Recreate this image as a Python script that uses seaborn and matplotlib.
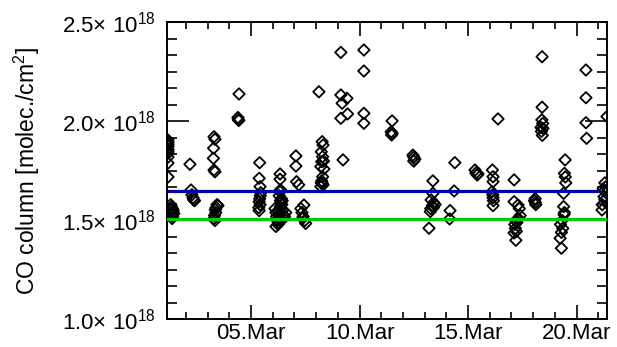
import pandas as pd
import numpy as np
import matplotlib
matplotlib.use("Agg")
import matplotlib.pyplot as plt
import matplotlib.dates as mdates
from matplotlib.ticker import FuncFormatter, MultipleLocator
import seaborn as sns

# day of March (fractional) and CO column in units of 1e18 molec/cm2
days = [
    1.18, 1.18, 1.18, 1.18, 1.18, 1.18, 1.18, 1.18, 1.18, 1.18,
    1.30, 1.34, 1.38, 1.32, 1.42, 1.36, 1.45, 1.33, 1.40, 1.37,
    2.19, 2.24, 2.28, 2.33, 2.40, 2.36,
    3.30, 3.34, 3.28, 3.27, 3.30, 3.34,
    3.44, 3.40, 3.36, 3.38, 3.32, 3.30, 3.34, 3.48,
    4.45, 4.40, 4.42, 4.44,
    5.40, 5.38, 5.42, 5.45, 5.43, 5.40, 5.38, 5.42, 5.36, 5.38,
    6.34, 6.34, 6.34, 6.36,
    6.11, 6.15, 6.18, 6.22, 6.25, 6.28, 6.30, 6.32, 6.35, 6.38, 6.40,
    6.42, 6.45, 6.48, 6.50, 6.55, 6.60, 6.30, 6.36, 6.26, 6.20, 6.44, 6.15,
    7.07, 7.07, 7.10, 7.20, 7.44, 7.30, 7.35, 7.40, 7.48, 7.52, 7.38,
    8.13, 8.28, 8.32, 8.24, 8.30, 8.26, 8.34, 8.22, 8.36, 8.30, 8.26, 8.28, 8.22, 8.32, 8.24,
    9.14, 9.14, 9.42, 9.20, 9.14, 9.45, 9.24,
    10.20, 10.20, 10.20, 10.20,
    11.50, 11.46, 11.50, 11.48,
    12.46, 12.50, 12.55, 12.50,
    13.38, 13.38, 13.30, 13.42, 13.36, 13.48, 13.28, 13.40, 13.26, 13.20,
    14.39, 14.36, 14.17, 14.15,
    15.32, 15.36, 15.42, 15.46,
    16.12, 16.15, 16.15, 16.10, 16.14, 16.15, 16.17, 16.15, 16.38,
    17.12, 17.12, 17.30, 17.36, 17.40, 17.20, 17.25, 17.15, 17.18, 17.22, 17.12, 17.20, 17.28, 17.32,
    18.09, 18.10, 18.12, 18.06, 18.41, 18.41, 18.40, 18.44, 18.36, 18.38, 18.42, 18.45,
    19.47, 19.44, 19.48, 19.50, 19.40, 19.40, 19.42, 19.33, 19.26, 19.36, 19.30, 19.24, 19.30, 19.44,
    20.43, 20.43, 20.43, 20.46,
    21.40, 21.30, 21.34, 21.22, 21.28, 21.36, 21.26, 21.30, 21.18, 21.17,
]
co = [
    1.906, 1.895, 1.885, 1.875, 1.86, 1.85, 1.84, 1.82, 1.79, 1.72,
    1.58, 1.57, 1.56, 1.555, 1.55, 1.54, 1.535, 1.53, 1.52, 1.51,
    1.784, 1.654, 1.63, 1.615, 1.60, 1.605,
    1.923, 1.91, 1.865, 1.814, 1.755, 1.746,
    1.58, 1.565, 1.555, 1.54, 1.525, 1.51, 1.50, 1.575,
    2.139, 2.02, 2.01, 2.005,
    1.792, 1.713, 1.671, 1.64, 1.625, 1.61, 1.595, 1.58, 1.565, 1.55,
    1.735, 1.708, 1.645, 1.655,
    1.56, 1.54, 1.52, 1.50, 1.48, 1.51, 1.53, 1.55, 1.57, 1.59, 1.61,
    1.58, 1.55, 1.53, 1.51, 1.52, 1.54, 1.625, 1.60, 1.49, 1.505, 1.60, 1.47,
    1.826, 1.775, 1.696, 1.68, 1.578, 1.56, 1.54, 1.52, 1.50, 1.485, 1.51,
    2.150, 1.898, 1.881, 1.847, 1.822, 1.797, 1.80, 1.772, 1.76, 1.721, 1.700, 1.688, 1.671, 1.68, 1.69,
    2.349, 2.134, 2.117, 2.092, 2.016, 2.038, 1.806,
    2.361, 2.255, 2.041, 1.991,
    2.003, 1.948, 1.94, 1.932,
    1.83, 1.82, 1.81, 1.80,
    1.700, 1.637, 1.604, 1.59, 1.575, 1.58, 1.56, 1.565, 1.545, 1.461,
    1.792, 1.649, 1.55, 1.508,
    1.755, 1.74, 1.73, 1.735,
    1.755, 1.721, 1.696, 1.645, 1.63, 1.615, 1.60, 1.575, 2.013,
    1.705, 1.595, 1.578, 1.56, 1.525, 1.50, 1.49, 1.48, 1.46, 1.445, 1.437, 1.40, 1.505, 1.51,
    1.61, 1.59, 1.58, 1.60, 2.327, 2.072, 2.008, 1.99, 1.97, 1.95, 1.93, 1.965,
    1.806, 1.738, 1.72, 1.69, 1.637, 1.57, 1.53, 1.50, 1.48, 1.46, 1.44, 1.41, 1.36, 1.54,
    2.26, 2.12, 1.994, 1.915,
    2.025, 1.69, 1.67, 1.66, 1.65, 1.64, 1.62, 1.605, 1.58, 1.553,
]

blue_level = 1.650e18
green_level = 1.506e18
x_start_day = 1.134
x_end_day = 21.40
blue_end_day = 21.02

t0 = pd.Timestamp("2010-03-01")
def to_date(d):
    return t0 + pd.to_timedelta(np.asarray(d) - 1, unit="D")

df = pd.DataFrame({"time": to_date(days), "co": np.array(co) * 1e18})

sns.set_style("ticks")
plt.rcParams["font.family"] = ["Liberation Sans", "DejaVu Sans"]
plt.rcParams["mathtext.default"] = "regular"
for key in ["text.color", "axes.labelcolor", "xtick.color", "ytick.color", "axes.edgecolor"]:
    plt.rcParams[key] = "black"

fig = plt.figure(figsize=(6.17, 3.47), dpi=100)
ax = fig.add_axes([0.2707, 0.0793, 0.7131, 0.8559])

sns.scatterplot(data=df, x="time", y="co", marker="D", s=34,
                facecolors="none", edgecolor="black", linewidth=1.3, ax=ax, zorder=2)

xs = to_date([x_start_day, blue_end_day])
ax.plot(xs, [blue_level, blue_level], color="#0000a8", lw=2.3, zorder=3)
xg = to_date([x_start_day, x_end_day])
ax.plot(xg, [green_level, green_level], color="#00c800", lw=2.3, zorder=3)

ax.set_xlim(to_date(x_start_day), to_date(x_end_day))
ax.set_ylim(1.0e18, 2.5e18)

ax.xaxis.set_major_locator(mdates.DayLocator(bymonthday=[5, 10, 15, 20]))
ax.xaxis.set_minor_locator(mdates.DayLocator())
ax.xaxis.set_major_formatter(mdates.DateFormatter("%d.%b"))
ax.yaxis.set_major_locator(MultipleLocator(0.5e18))
ax.yaxis.set_minor_locator(MultipleLocator(0.5e18 / 6))
ax.yaxis.set_major_formatter(FuncFormatter(lambda v, p: f"{v / 1e18:.1f}\u00d7 10$^{{18}}$"))

ax.tick_params(axis="y", which="major", direction="in", left=True, right=True,
               length=15.5, width=1.2, labelsize=16, pad=8.5, color="black", labelcolor="black")
ax.tick_params(axis="y", which="minor", direction="in", left=True, right=True,
               length=7.2, width=1.2, color="black")
ax.tick_params(axis="x", which="major", direction="in", top=True, bottom=True,
               length=10, width=1.2, labelsize=16, pad=2.5, color="black", labelcolor="black")
ax.tick_params(axis="x", which="minor", direction="in", top=True, bottom=True,
               length=5, width=1.2, color="black")
for sp in ax.spines.values():
    sp.set_linewidth(1.4)
    sp.set_color("black")

ax.set_xlabel("")
ax.set_ylabel("CO column [molec./cm$^{2}$]", fontsize=16.5, color="black")
ax.yaxis.set_label_coords(-0.284, 0.5)

fig.savefig("out.png", dpi=100)
